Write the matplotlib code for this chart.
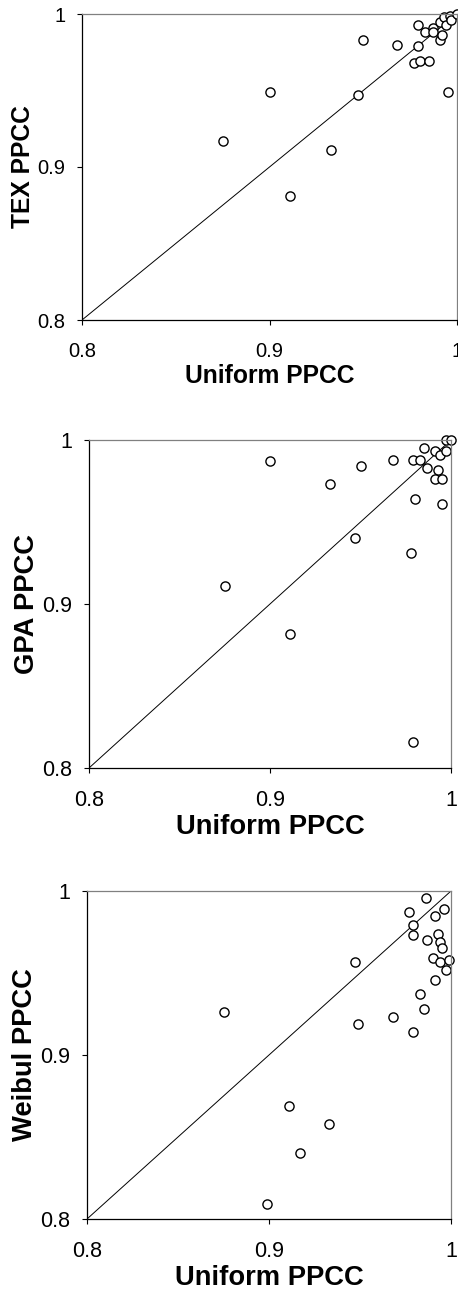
import matplotlib
matplotlib.use("Agg")
import matplotlib.pyplot as plt

plt.rcParams['font.family'] = ['Liberation Sans', 'DejaVu Sans']

# panel 1: TEX vs Uniform
tex_x = [0.979, 0.950, 0.968, 0.979, 0.983, 0.987, 0.987, 0.977, 0.980, 0.985,
         0.991, 0.992, 0.991, 0.993, 0.994, 0.996, 0.997, 1.000, 0.995, 0.947,
         0.900, 0.875, 0.933, 0.911]
tex_y = [0.993, 0.983, 0.980, 0.979, 0.988, 0.991, 0.988, 0.968, 0.969, 0.969,
         0.983, 0.986, 0.995, 0.998, 0.993, 0.999, 0.996, 1.000, 0.949, 0.947,
         0.949, 0.917, 0.911, 0.881]

# panel 2: GPA vs Uniform
gpa_x = [0.900, 0.950, 0.933, 0.968, 0.979, 0.983, 0.985, 0.987, 0.991, 0.994,
         0.993, 0.991, 0.995, 0.997, 0.997, 1.000, 0.980, 0.995, 0.947, 0.978,
         0.875, 0.911, 0.979]
gpa_y = [0.987, 0.984, 0.973, 0.988, 0.988, 0.988, 0.995, 0.983, 0.993, 0.991,
         0.982, 0.976, 0.976, 0.993, 1.000, 1.000, 0.964, 0.961, 0.940, 0.931,
         0.911, 0.882, 0.816]

# panel 3: Weibul vs Uniform
wei_x = [0.986, 0.977, 0.979, 0.979, 0.991, 0.996, 0.993, 0.987, 0.994, 0.995,
         0.990, 0.994, 0.999, 0.997, 0.991, 0.983, 0.985, 0.968, 0.949, 0.979,
         0.947, 0.875, 0.911, 0.933, 0.917, 0.899]
wei_y = [0.996, 0.987, 0.979, 0.973, 0.985, 0.989, 0.974, 0.970, 0.969, 0.965,
         0.959, 0.957, 0.958, 0.952, 0.946, 0.937, 0.928, 0.923, 0.919, 0.914,
         0.957, 0.926, 0.869, 0.858, 0.840, 0.809]

ticks = [0.8, 0.9, 1.0]
tick_labels = ["0.8", "0.9", "1"]

fig = plt.figure(figsize=(4.58, 12.94), dpi=100)

panels = [
    (tex_x, tex_y, "TEX PPCC", [82, 14, 457, 320], 17.7, 14.5),
    (gpa_x, gpa_y, "GPA PPCC", [89, 440, 451, 768], 19.7, 15.5),
    (wei_x, wei_y, "Weibul PPCC", [87, 891, 451, 1219], 19.7, 15.5),
]

for x, y, ylab, box, lab_fs, tick_fs in panels:
    l, t, r, b = box
    ax = fig.add_axes([l / 458, 1 - b / 1294, (r - l) / 458, (b - t) / 1294])
    ax.plot([0.8, 1.0], [0.8, 1.0], color='black', lw=0.7)
    ax.plot(x, y, 'o', ms=6.6, mfc='white', mec='black', mew=1.0, clip_on=False)
    ax.set_xlim(0.8, 1.0)
    ax.set_ylim(0.8, 1.0)
    ax.set_xticks(ticks)
    ax.set_xticklabels(tick_labels)
    ax.set_yticks(ticks)
    ax.set_yticklabels(tick_labels)
    ax.tick_params(direction='out', length=3.5, width=0.8, labelsize=tick_fs)
    ax.tick_params(axis='y', pad=8.5)
    ax.tick_params(axis='x', pad=12.5)
    ax.spines['top'].set_color('#808080')
    ax.spines['right'].set_color('#808080')
    for s in ax.spines.values():
        s.set_linewidth(0.9)
    ax.set_xlabel("Uniform PPCC", fontsize=lab_fs, fontweight='bold', labelpad=2)
    ax.set_ylabel(ylab, fontsize=lab_fs, fontweight='bold', labelpad=2)

fig.savefig("out.png", dpi=100)
